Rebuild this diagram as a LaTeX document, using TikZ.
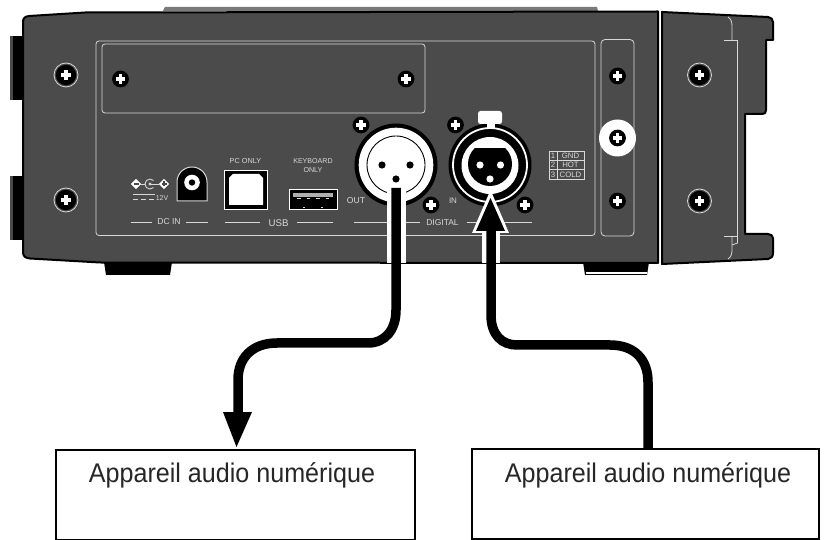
\documentclass[tikz,border=0pt]{standalone}
\usepackage{fontspec}
\setmainfont{Liberation Sans}
\usetikzlibrary{calc}
\definecolor{body}{HTML}{4B4B4B}
\definecolor{pale}{HTML}{D8D8D8}
\definecolor{mid}{HTML}{7A7A7A}
\tikzset{
  x=1pt,y=-1pt,
  outline/.style={draw=pale,line width=0.8pt,rounded corners=3pt},
  rule/.style={draw=pale,line width=0.8pt},
  lbl/.style={text=pale,font=\fontsize{#1}{#1}\selectfont,inner sep=0pt},
  lbl/.default=7.2,
  devbox/.style={draw=black,line width=2.2pt,fill=white,minimum width=#1,minimum height=90pt,inner sep=0pt},
  devtext/.style={text=black!85,inner sep=0pt,anchor=base,font=\fontsize{27}{30}\selectfont},
  cable/.style={draw=black,line width=9.5pt},
}
\newcommand{\plusmark}[2]{%
  \fill[white] (#1-1.7,#2-4.6) rectangle (#1+1.7,#2+4.6);
  \fill[white] (#1-4.6,#2-1.7) rectangle (#1+4.6,#2+1.7);}
\newcommand{\screw}[2]{\fill[black] (#1,#2) circle[radius=8.4pt];\plusmark{#1}{#2}}
\newcommand{\ringscrew}[2]{\draw[pale,line width=0.8pt] (#1,#2) circle[radius=12pt];\fill[black] (#1,#2) circle[radius=10.2pt];\plusmark{#1}{#2}}
\begin{document}
\begin{tikzpicture}
\useasboundingbox (0,0) rectangle (831,540);
\fill[white] (0,0) rectangle (831,540);
% top strip, tabs, feet
\fill[mid] (163,11) -- (165,7) -- (597,7) -- (598,11) -- cycle;
\fill[black] (10,36) rectangle (24,100);
\fill[mid!60!black] (10,36) rectangle (13,100);
\fill[black] (10,176) rectangle (24,240);
\fill[mid!60!black] (10,176) rectangle (13,240);
\fill[black] (104,262) -- (172,262) -- (170,275) -- (106,275) -- cycle;
\fill[black] (583,262) -- (649,262) -- (647,275) -- (585,275) -- cycle;
\fill[white] (586,272) rectangle (647,274.5);
% main body
\draw[black,line width=2pt,fill=body,line join=round]
  (23,22) .. controls (23,18) and (25,16.5) .. (29,16) -- (85,12.5) -- (658,11.5)
  -- (658,263) -- (100,262.5) -- (30,258.5)
  .. controls (25,258) and (23,256) .. (23,252) -- cycle;
% right block
\draw[black,line width=2pt,fill=body,line join=round]
  (662,12) -- (768,17) .. controls (771,17.5) and (773,19) .. (773,22) -- (773,40) -- (766,40)
  -- (766,110) .. controls (766,113) and (765,114) .. (762,114) -- (745,114)
  -- (745,234) -- (768,234) .. controls (771,234) and (773,236) .. (773,238)
  -- (773,253) .. controls (773,257) and (771,258.5) .. (768,259) -- (662,264) -- cycle;
% lines on right block
\draw[rule] (724,40) -- (737.5,40) -- (737.5,236) -- (724,236);
\draw[rule] (728,17) .. controls (731,19) and (732,22) .. (732,26) -- (732,40);
\draw[rule] (732,236) -- (732,250) .. controls (732,254) and (731,257) .. (728,259);
\draw[rule] (737.5,236) -- (737.5,243) -- (732,245);
% panels
\draw[outline] (96,41) rectangle (595,235.5);
\draw[outline] (102,44) rectangle (425,113);
\draw[outline,rounded corners=4pt] (601,39.5) rectangle (634,236);
\fill[white] (617.5,138) circle[radius=18.5pt];
% screws
\ringscrew{66}{75}\ringscrew{66}{200}\ringscrew{699.5}{75}\ringscrew{699.5}{201}
\screw{120.5}{79}\screw{406}{79}
\screw{617.5}{76}\screw{617.5}{138}\screw{617.5}{201}
% DC in
\fill[white] (136,178.8) -- (141.2,184) -- (136,189.2) -- (130.8,184) -- cycle;
\fill[white] (164,178.8) -- (169.2,184) -- (164,189.2) -- (158.8,184) -- cycle;
\draw[pale,line width=0.9pt] (153.5,180.5) arc[start angle=45,end angle=315,radius=5pt];
\fill[pale] (150,184) circle[radius=1.6pt];
\draw[pale,line width=0.9pt] (140,184) -- (145,184) (150,184) -- (159,184);
\fill[body] (133.5,183.4) rectangle (138.5,184.6);
\fill[body] (161.5,183.4) rectangle (166.5,184.6);
\fill[body] (163.4,181.5) rectangle (164.6,186.5);
\draw[pale,line width=0.8pt] (133,194) -- (154.5,194);
\draw[pale,line width=0.8pt,dash pattern=on 5pt off 2.8pt] (133,199) -- (155,199);
\node[lbl=7] (vlabel) at (162,198.5) {12V};
\node[lbl=8.6] (dcin) at (169,222) {DC IN};
\draw[rule] (131,222) -- (152,222) (186,222) -- (207.5,222);
\draw[pale,line width=1pt,fill=black] (177,201) -- (177,182) arc[start angle=180,end angle=0,radius=15pt] -- (207,201) -- cycle;
\fill[white] (192,182.5) circle[radius=7.8pt];
\fill[black] (192,182.5) circle[radius=3.2pt];
% USB B
\draw[white,line width=0.8pt,fill=black] (224.5,170) rectangle (267.5,209);
\fill[white] (233,174) -- (259,174) -- (263,178) -- (263,205) -- (229,205) -- (229,178) -- cycle;
\node[lbl=7.3] (pconly) at (245.5,161) {PC ONLY};
\node[lbl=9.7] (usb) at (278.5,223) {USB};
\draw[rule] (225,222) -- (260,222) (297,222) -- (333,222);
% USB A
\draw[white,line width=1pt,fill=black] (289.5,189.5) rectangle (337,210);
\fill[mid!60!white] (292.5,193) rectangle (333,197);
\draw[pale,line width=0.7pt,dash pattern=on 3.5pt off 6pt] (297,198.5) -- (332,198.5);
\draw[pale,line width=0.7pt] (303,207) -- (305,207) (321,207) -- (323,207);
\node[lbl=7.1] (kbd) at (313,161) {KEYBOARD};
\node[lbl=7.1] (only) at (313,170) {ONLY};
% XLR out
\fill[black] (396,165) circle[radius=41.5pt];
\fill[white] (396,165) circle[radius=37.3pt];
\draw[black,line width=0.9pt] (396,165) circle[radius=29pt];
\foreach \cx/\cy in {382/165,410/165,396/179} \fill[black] (\cx,\cy) circle[radius=3.6pt];
\screw{361}{125}\screw{431}{205}
\node[lbl=8.6] (out) at (356,201) {OUT};
% XLR in
\fill[black] (490,165) circle[radius=41.5pt];
\draw[white,line width=1.8pt] (490,165) circle[radius=37pt];
\fill[white,rounded corners=2.5pt] (478,111) rectangle (502,124);
\fill[white] (486.5,120) rectangle (494.5,129);
\fill[white] (490,165.5) circle[radius=28.5pt];
\begin{scope}
\clip (460,149) rectangle (520,195);
\fill[black] (490,164) circle[radius=22pt];
\end{scope}
\foreach \cx/\cy in {480/165,500.5/165,490/179} \fill[white] (\cx,\cy) circle[radius=3.6pt];
\screw{455.5}{125}\screw{525}{205}
\node[lbl=8] (in) at (453,201) {IN};
% DIGITAL rules + label
\node[lbl=8.5] (digital) at (442.5,223) {DIGITAL};
\draw[rule] (354,222) -- (420,222) (467,222) -- (532,222);
% pin legend
\draw[pale,line width=0.7pt] (549,151) rectangle (584,179)
  (549,160.3) -- (584,160.3) (549,169.7) -- (584,169.7) (557,151) -- (557,179);
\node[lbl=7.8] (p1) at (553,155.8) {1};
\node[lbl=7.8] (p2) at (553,165) {2};
\node[lbl=7.8] (p3) at (553,174.4) {3};
\node[lbl=7.8] (gnd) at (570.5,155.8) {GND};
\node[lbl=7.8] (hot) at (570.5,165) {HOT};
\node[lbl=7.8] (cold) at (570.5,174.4) {COLD};
% boxes
\node[devbox=359pt,anchor=north west] (devA) at (54.5,449) {};
\node[devbox=347pt,anchor=north west] (devB) at (470.5,448) {};
\node[devtext] (txtA) at (232,482.5) {\scalebox{0.93}[1]{Appareil audio numérique}};
\node[devtext] (txtB) at (648,482.5) {\scalebox{0.93}[1]{Appareil audio numérique}};
% connector end points
\coordinate (outpin) at (396,188);
\coordinate (inpin) at (491,231);
% cables
\fill[white] (386.5,188) rectangle (405.5,263);
\fill[white] (482,225) rectangle (500,263);
\fill[white] (490.5,190) -- (509,233) -- (472,233) -- cycle;
\draw[cable] (outpin) -- (396,310) .. controls (396,330) and (385,343) .. (368,343)
  -- (277,343) .. controls (252,343) and (238,358) .. (238,380) -- (238,415);
\fill[black] (223,412) -- (252,412) -- (236.5,447) -- cycle;
\draw[cable] (inpin) -- (491,315) .. controls (491,335) and (502,345) .. (517,345)
  -- (610,345) .. controls (635,345) and (648,360) .. (648,382) -- (648,448);
\fill[black] (490.5,198) -- (505,231) -- (476,231) -- cycle;
\end{tikzpicture}
\end{document}
